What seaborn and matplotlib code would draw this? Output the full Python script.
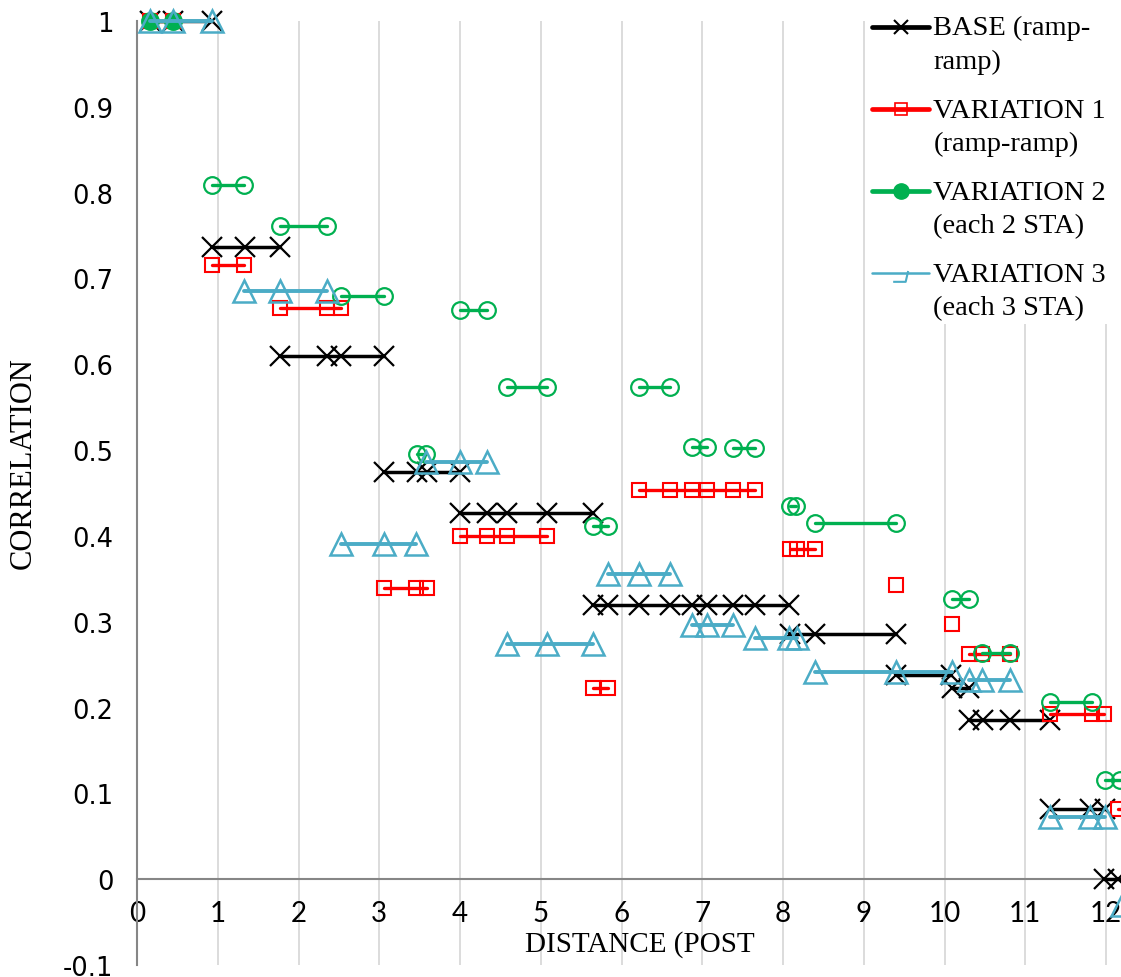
import numpy as np
import pandas as pd
import matplotlib
matplotlib.use("Agg")
import matplotlib.pyplot as plt
import seaborn as sns
from matplotlib.lines import Line2D
from matplotlib.path import Path
from matplotlib.legend_handler import HandlerLine2D

# ---------------- data ----------------
series_labels = ["BASE (ramp-\nramp)", "VARIATION 1\n(ramp-ramp)",
                 "VARIATION 2\n(each 2 STA)", "VARIATION 3\n(each 3 STA)"]

# each series: list of horizontal segments (x positions) and one y per segment
base_x = [[0.16, 0.45, 0.93], [0.93, 1.34, 1.77], [1.77, 2.35, 2.53, 3.06],
          [3.06, 3.47, 3.59, 4.0], [4.0, 4.34, 4.58, 5.08, 5.65],
          [5.65, 5.83, 6.22, 6.6, 6.87, 7.06, 7.38, 7.65, 8.07],
          [8.09, 8.4, 9.4], [9.4, 10.08], [10.09, 10.3],
          [10.3, 10.48, 10.81, 11.31], [11.31, 11.8, 11.99], [11.97, 12.15, 12.5]]
base_y = [1.0, 0.737, 0.610, 0.475, 0.427, 0.320, 0.286, 0.238, 0.223, 0.185, 0.082, 0.0]

var1_x = [[0.16, 0.45], [0.93, 1.33], [1.77, 2.35, 2.53], [3.06, 3.45, 3.59],
          [4.0, 4.34, 4.58, 5.08], [5.65, 5.83], [6.22, 6.6, 6.87, 7.06, 7.38, 7.65],
          [8.09, 8.17, 8.4], [9.4], [10.09], [10.3, 10.46, 10.81],
          [11.31, 11.83, 11.98], [12.15, 12.5]]
var1_y = [1.0, 0.716, 0.666, 0.339, 0.400, 0.223, 0.453, 0.385, 0.343, 0.297, 0.262, 0.192, 0.082]

var2_x = [[0.16, 0.45], [0.93, 1.33], [1.77, 2.35], [2.53, 3.06], [3.47, 3.58],
          [4.0, 4.34], [4.58, 5.08], [5.65, 5.83], [6.22, 6.6], [6.87, 7.06],
          [7.38, 7.65], [8.09, 8.16], [8.4, 9.4], [10.09, 10.3], [10.46, 10.81],
          [11.31, 11.83], [11.99, 12.17]]
var2_y = [1.0, 0.809, 0.761, 0.679, 0.496, 0.663, 0.574, 0.412, 0.574, 0.504,
          0.502, 0.435, 0.415, 0.327, 0.263, 0.206, 0.116]

var3_x = [[0.16, 0.45, 0.93], [1.33, 1.77, 2.35], [2.53, 3.06, 3.45], [3.58, 4.0, 4.34],
          [4.58, 5.08, 5.65], [5.83, 6.22, 6.6], [6.87, 7.06, 7.38], [7.65, 8.07, 8.17],
          [8.4, 9.4, 10.09], [10.3, 10.46, 10.81], [11.31, 11.8, 11.99], [12.2]]
var3_y = [1.0, 0.685, 0.391, 0.486, 0.274, 0.356, 0.296, 0.281, 0.241, 0.232, 0.072, -0.03]

x_ticks = list(range(0, 13))
y_ticks = [-0.1, 0, 0.1, 0.2, 0.3, 0.4, 0.5, 0.6, 0.7, 0.8, 0.9, 1]
y_tick_labels = ["-0.1", "0", "0.1", "0.2", "0.3", "0.4", "0.5", "0.6", "0.7", "0.8", "0.9", "1"]


def to_df(xs, ys):
    rows = []
    for i, (seg, yv) in enumerate(zip(xs, ys)):
        for xv in seg:
            rows.append((i, xv, yv))
    return pd.DataFrame(rows, columns=["seg", "x", "y"])


sns.set_theme(style="white")
plt.rcParams["font.family"] = ["DejaVu Sans"]
plt.rcParams["text.color"] = "black"
plt.rcParams["axes.labelcolor"] = "black"

W, H = 1121, 978
fig = plt.figure(figsize=(W / 100, H / 100), dpi=100)
ax = fig.add_axes([137 / W, 12 / H, (W - 137) / W, (966 - 22) / H])

BLACK, RED, GREEN, BLUE = "#000000", "#FF0000", "#00B050", "#4BACC6"

styles = [
    dict(color=BLACK, marker="x", markersize=14, markeredgecolor=BLACK,
         markeredgewidth=1.6, linewidth=2.5),
    dict(color=RED, marker="s", markersize=10.5, markerfacecolor="none",
         markeredgecolor=RED, markeredgewidth=1.5, linewidth=2.4),
    dict(color=GREEN, marker="o", markersize=12, markerfacecolor="none",
         markeredgecolor=GREEN, markeredgewidth=1.6, linewidth=2.4),
    dict(color=BLUE, marker="^", markersize=16, markerfacecolor="none",
         markeredgecolor=BLUE, markeredgewidth=1.8, linewidth=2.8),
]

all_data = [(base_x, base_y), (var1_x, var1_y), (var2_x, var2_y), (var3_x, var3_y)]

for k, ((xs, ys), st) in enumerate(zip(all_data, styles)):
    df = to_df(xs, ys)
    if k == 2:
        # first green segment drawn with filled markers
        sns.lineplot(data=df[df.seg == 0], x="x", y="y", units="seg", estimator=None,
                     sort=False, legend=False, ax=ax, clip_on=False, zorder=3 + k,
                     **{**st, "markerfacecolor": GREEN})
        df = df[df.seg != 0]
    sns.lineplot(data=df, x="x", y="y", units="seg", estimator=None, sort=False,
                 legend=False, ax=ax, clip_on=False, zorder=3 + k, **st)

ax.set_xlim(0, (W - 137) / 80.75)
ax.set_ylim(-0.1, 1.0)

# Excel-like axes
for s in ["top", "right"]:
    ax.spines[s].set_visible(False)
for s in ["left", "bottom"]:
    ax.spines[s].set_position(("data", 0))
    ax.spines[s].set_color("#868686")
    ax.spines[s].set_linewidth(1.5)
    ax.spines[s].set_zorder(2.5)

ax.set_xticks(x_ticks)
ax.set_xticklabels([str(v) for v in x_ticks], fontfamily="Lato", fontsize=20)
ax.set_yticks(y_ticks)
ax.set_yticklabels(y_tick_labels, fontfamily="DejaVu Sans", fontsize=18.5)
ax.tick_params(axis="both", direction="inout", length=14, width=1.5,
               color="#868686", labelcolor="black")
ax.tick_params(axis="x", pad=8)
ax.tick_params(axis="y", pad=10)

ax.grid(axis="x", color="#D9D9D9", linewidth=1.3)
ax.grid(axis="y", visible=False)
ax.set_axisbelow(True)

ax.set_xlabel("DISTANCE (POST", fontfamily="Liberation Serif", fontsize=21,
              va="center", color="black")
ax.xaxis.set_label_coords((640 - 137) / (W - 137), (966 - 945) / 944)
ax.set_ylabel("CORRELATION", fontfamily="Liberation Serif", fontsize=22,
              va="center", color="black")
ax.yaxis.set_label_coords((23 - 137) / (W - 137), (966 - 463) / 944)


# ---------------- legend ----------------
class TopHandler(HandlerLine2D):
    def create_artists(self, legend, orig_handle, xdescent, ydescent, width,
                       height, fontsize, trans):
        arts = super().create_artists(legend, orig_handle, xdescent, ydescent,
                                      width, height, fontsize, trans)
        for a in arts:
            a.set_ydata(np.asarray(a.get_ydata(), dtype=float) + 0.62 * fontsize)
        return arts


v3_marker = Path([(-1.0, -1.0), (0.5, -1.0), (0.8, 0.3)],
                 [Path.MOVETO, Path.LINETO, Path.LINETO])

handles = [
    Line2D([], [], color=BLACK, lw=3.4, marker="x", ms=10, mew=1.5, mec=BLACK),
    Line2D([], [], color=RED, lw=3.4, marker="s", ms=8, mfc="none", mec=RED, mew=1.2),
    Line2D([], [], color=GREEN, lw=3.4, marker="o", ms=11, mfc=GREEN, mec=GREEN),
    Line2D([], [], color=BLUE, lw=1.8, marker=v3_marker, ms=12, mfc="none",
           mec=BLUE, mew=1.5),
]
h = TopHandler()
leg = ax.legend(handles, series_labels, loc="upper left",
                bbox_to_anchor=(868 / W, 1 - 12 / H), bbox_transform=fig.transFigure,
                frameon=True, facecolor="white", edgecolor="none", framealpha=1,
                fancybox=False, borderpad=0.15, borderaxespad=0, handlelength=2.0,
                handletextpad=0.15, labelspacing=0.82,
                prop={"family": "Liberation Serif", "size": 20.5},
                handler_map={Line2D: h})
leg.set_zorder(10)
for t in leg.get_texts():
    t.set_linespacing(1.45)
    t.set_color("black")

fig.savefig("out.png", dpi=100)
